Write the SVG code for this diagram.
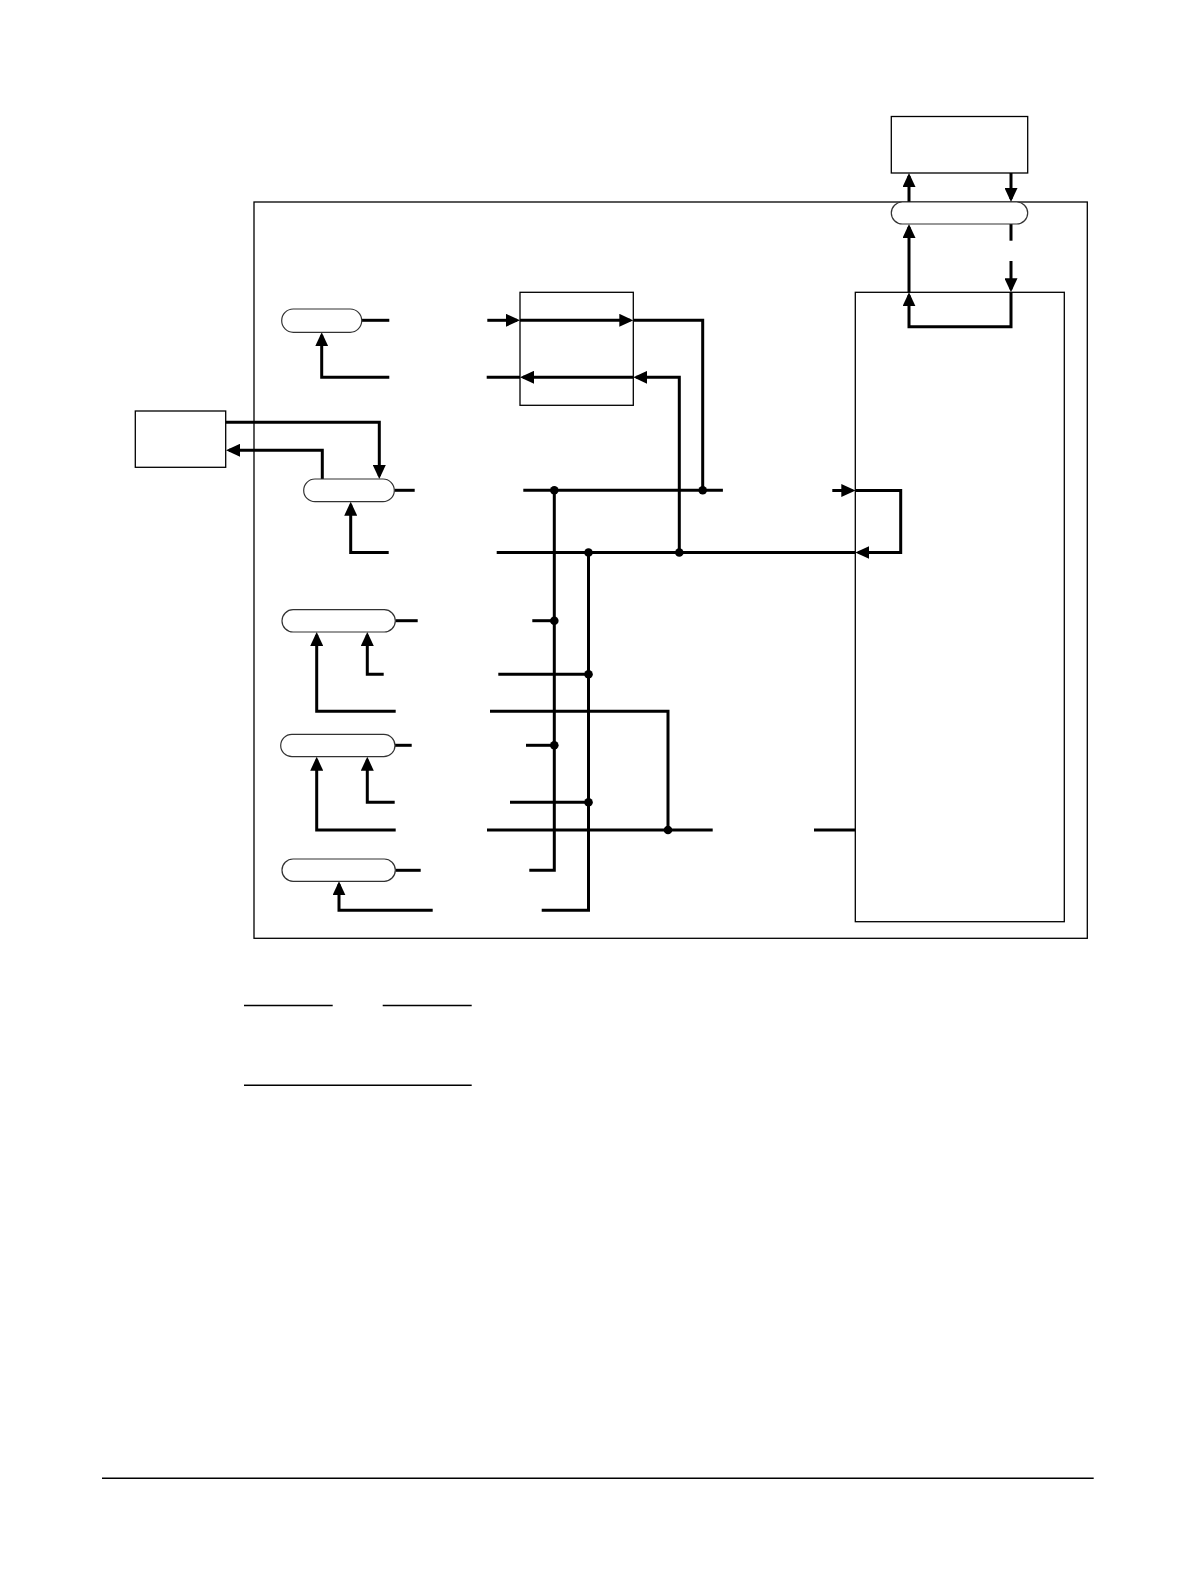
<svg xmlns="http://www.w3.org/2000/svg" width="1191" height="1585" viewBox="0 0 1191 1585">
<style>
.box{fill:#fff;stroke:#000;stroke-width:1.3}
.frame{fill:none;stroke:#000;stroke-width:1.3}
.pill{fill:#fff;stroke:#333;stroke-width:1.2}
.w{fill:none;stroke:#000;stroke-width:3;stroke-linecap:butt;stroke-linejoin:miter}
.a{marker-end:url(#arr)}
.dot{fill:#000}
.rule{stroke:#000;stroke-width:1.4}
</style>
<defs>
<marker id="arr" viewBox="0 0 14 13" refX="11" refY="6.5" markerWidth="14" markerHeight="13" markerUnits="userSpaceOnUse" orient="auto">
<path d="M0,0 L14,6.5 L0,13 z" fill="#000"/>
</marker>
</defs>
<rect width="1191" height="1585" fill="#fff"/>

<g id="frame"><rect class="frame" x="254" y="202" width="833.3" height="736.3"/></g>

<g id="connectors">
<path class="w a" d="M909,202 V176"/>
<path class="w a" d="M1011,173 V199"/>
<path class="w" d="M1011,224 V240.7"/>
<path class="w a" d="M1011,261 V289.3"/>
<path class="w a" d="M1011,292.3 V326.7 H909 V295.3"/>
<path class="w a" d="M909,292.3 V227"/>
<path class="w" d="M361.7,320.3 H389.3"/>
<path class="w a" d="M389.3,377.3 H321.7 V335.3"/>
<path class="w a" d="M487.3,320.3 H517"/>
<path class="w a" d="M520,320.3 H630.3"/>
<path class="w" d="M633.3,320.3 H702.7 V490.3"/>
<path class="w a" d="M679.3,552.5 V377.3 H636.3"/>
<path class="w a" d="M633.3,377.3 H523"/>
<path class="w" d="M520,377.3 H486.7"/>
<path class="w a" d="M225.7,422.3 H379.3 V476"/>
<path class="w a" d="M322.3,479 V450.3 H229"/>
<path class="w" d="M394.3,490.3 H414.7"/>
<path class="w a" d="M388.7,552.5 H350.7 V504.7"/>
<path class="w" d="M523.3,490.3 H722.9"/>
<path class="w a" d="M832.3,490.5 H852.3"/>
<path class="w a" d="M855.3,490.5 H900.7 V552.5 H858.3"/>
<path class="w" d="M496.7,552.5 H855.3"/>
<path class="w" d="M554.3,490.3 V870.3 H529.3"/>
<path class="w" d="M588.5,552.5 V910.3 H541.7"/>
<path class="w" d="M395.3,620.7 H417.7"/>
<path class="w" d="M532.3,620.7 H554.3"/>
<path class="w a" d="M383.7,674.3 H367.3 V635"/>
<path class="w a" d="M395.7,711.3 H316.7 V635"/>
<path class="w" d="M498.3,674.3 H588.5"/>
<path class="w" d="M490,711.3 H668 V830"/>
<path class="w" d="M395,745.3 H411.7"/>
<path class="w" d="M526,745.3 H554.3"/>
<path class="w a" d="M394.7,802.3 H367.3 V759.7"/>
<path class="w a" d="M395.7,830 H316.7 V759.7"/>
<path class="w" d="M510,802.3 H588.5"/>
<path class="w" d="M487,830 H712.7"/>
<path class="w" d="M814,830 H855.3"/>
<path class="w" d="M395.3,870.3 H420.7"/>
<path class="w a" d="M432.7,910.3 H339 V884.3"/>
<circle class="dot" cx="554.3" cy="490.3" r="4.3"/>
<circle class="dot" cx="702.7" cy="490.3" r="4.3"/>
<circle class="dot" cx="588.5" cy="552.5" r="4.3"/>
<circle class="dot" cx="679.3" cy="552.5" r="4.3"/>
<circle class="dot" cx="554.3" cy="620.7" r="4.3"/>
<circle class="dot" cx="588.5" cy="674.3" r="4.3"/>
<circle class="dot" cx="554.3" cy="745.3" r="4.3"/>
<circle class="dot" cx="588.5" cy="802.3" r="4.3"/>
<circle class="dot" cx="668" cy="830" r="4.3"/>
</g>

<g id="top-box"><rect class="box" x="891.3" y="116.5" width="136.4" height="56.5"/></g>
<g id="left-box"><rect class="box" x="135.3" y="411" width="90.4" height="56.3"/></g>
<g id="middle-box"><rect class="frame" x="520" y="292.3" width="113.3" height="113"/></g>
<g id="tall-box"><rect class="frame" x="855.3" y="292.3" width="209" height="629.4"/></g>

<g id="pill-top"><rect class="pill" x="891.3" y="202" width="136.4" height="22" rx="11"/></g>
<g id="pill-1"><rect class="pill" x="281.7" y="309" width="80" height="23.3" rx="11.5"/></g>
<g id="pill-2"><rect class="pill" x="303.7" y="479" width="90.6" height="22.7" rx="11.3"/></g>
<g id="pill-3"><rect class="pill" x="282" y="609.7" width="113.3" height="22.3" rx="11.1"/></g>
<g id="pill-4"><rect class="pill" x="280.7" y="734.3" width="114.3" height="22.4" rx="11.2"/></g>
<g id="pill-5"><rect class="pill" x="282" y="859" width="113.3" height="22.3" rx="11.1"/></g>

<g id="rules">
<line class="rule" x1="244" y1="1005.5" x2="332.7" y2="1005.5"/>
<line class="rule" x1="382.7" y1="1005.5" x2="471.7" y2="1005.5"/>
<line class="rule" x1="244" y1="1085.3" x2="471.7" y2="1085.3"/>
<line class="rule" x1="102" y1="1478.3" x2="1093.7" y2="1478.3"/>
</g>
</svg>
